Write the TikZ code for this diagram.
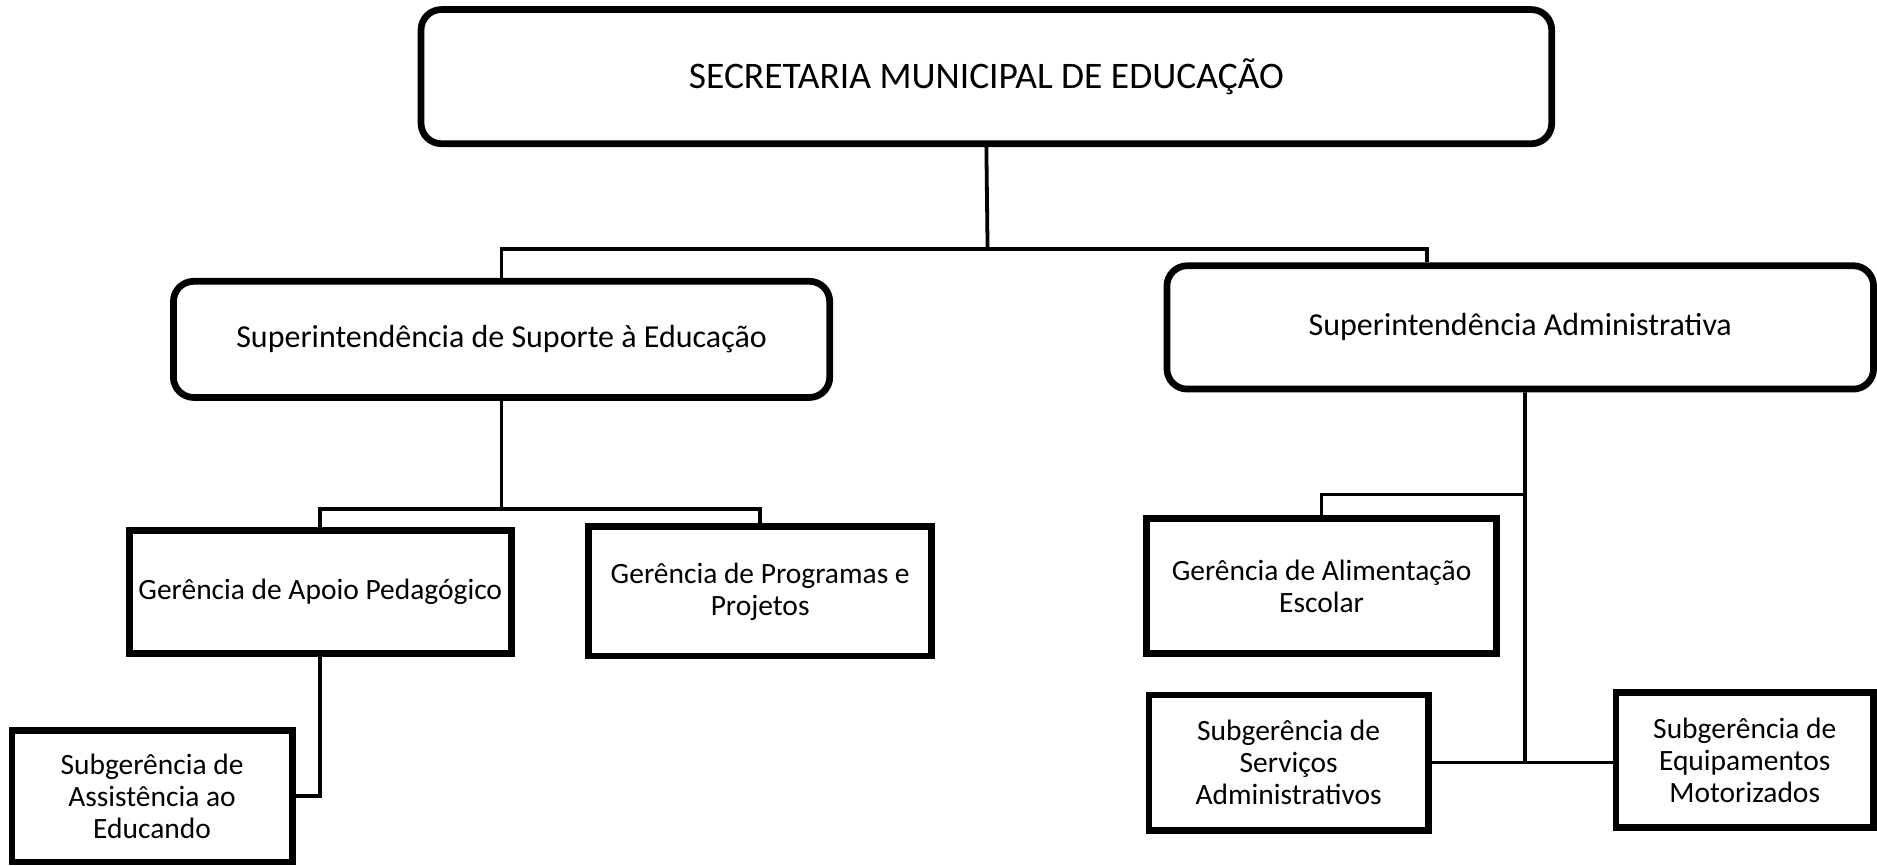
\documentclass[tikz,border=0pt]{standalone}
\usepackage{fontspec}
\setmainfont{Carlito}
\usepackage{tikz}
\usetikzlibrary{positioning,calc}

\begin{document}
\begin{tikzpicture}[x=0.01cm,y=-0.01cm,
  every node/.style={font=\fontsize{7}{7.6}\selectfont},
  topbox/.style={draw,line width=1.6pt,rounded corners=0.17cm,align=center,inner sep=1pt},
  unit/.style={draw,line width=1.6pt,align=center,inner sep=1pt},
  link/.style={line width=0.9pt}]
 \useasboundingbox (0,0) rectangle (1568,723);
 % top level
 \node[topbox,minimum width=9.44cm,minimum height=1.12cm,font=\fontsize{8.9}{10}\selectfont] (sec) at (824,64) {SECRETARIA MUNICIPAL DE EDUCAÇÃO};
 \node[topbox,minimum width=5.48cm,minimum height=0.97cm,font=\fontsize{7.6}{9}\selectfont] (sse) at (419,283.5) {Superintendência de Suporte à Educação};
 \node[topbox,minimum width=5.90cm,minimum height=1.03cm,font=\fontsize{7.6}{9}\selectfont] (sa) at (1270,273.5) {Superintendência Administrativa};
 % gerencias
 \node[unit,minimum width=3.19cm,minimum height=1.03cm] (gap) at (267.5,494.5) {Gerência de Apoio Pedagógico};
 \node[unit,minimum width=2.86cm,minimum height=1.08cm] (gpp) at (635,494) {Gerência de Programas e\\Projetos};
 \node[unit,minimum width=2.92cm,minimum height=1.13cm] (gae) at (1104,489.5) {Gerência de Alimentação\\Escolar};
 % subgerencias
 \node[unit,minimum width=2.34cm,minimum height=1.10cm] (sae) at (127,665) {Subgerência de\\Assistência ao\\Educando};
 \node[unit,minimum width=2.33cm,minimum height=1.13cm] (ssa) at (1076.5,637) {Subgerência de\\Serviços\\Administrativos};
 \node[unit,minimum width=2.15cm,minimum height=1.13cm] (sem) at (1457.5,635) {Subgerência de\\Equipamentos\\Motorizados};
 % connectors
 \coordinate (j1) at (825,208);
 \coordinate (j2) at (419,425);
 \coordinate (j3) at (1274,413);
 \coordinate (j4) at (1274,637);
 \draw[link] (sec.south) -- (j1);
 \draw[link] (sse.north) |- (j1) -| ([xshift=-0.78cm]sa.north);
 \draw[link] (sse.south) -- (j2);
 \draw[link] (gap.north) |- (j2) -| (gpp.north);
 \draw[link] (gap.south) |- (sae.east);
 \draw[link] ([xshift=0.04cm]sa.south) -- (j4);
 \draw[link] (j3) -| (gae.north);
 \draw[link] (ssa.east) -- (ssa.east -| sem.west);
\end{tikzpicture}
\end{document}
